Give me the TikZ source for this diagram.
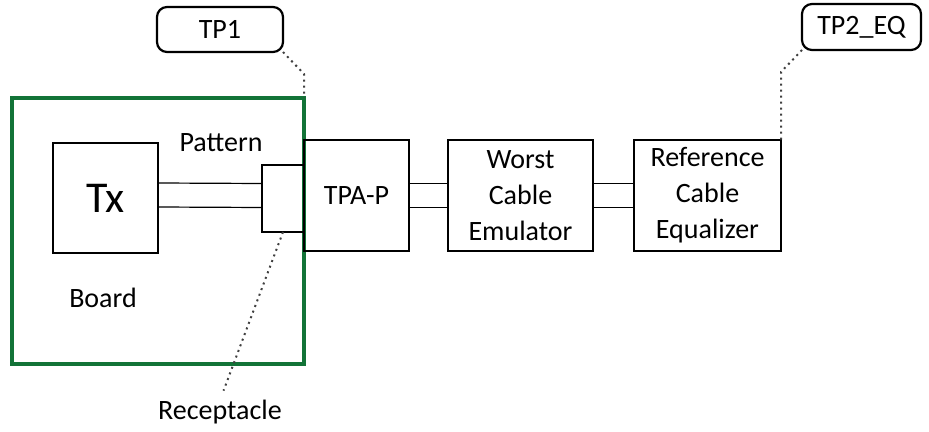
\documentclass[tikz,border=0pt]{standalone}
\usepackage{fontspec}
\setmainfont{Carlito}
\definecolor{boardgreen}{RGB}{18,115,55}
\begin{document}
\begin{tikzpicture}[x=0.5pt,y=-0.5pt,
  every node/.style={font=\fontsize{14}{18}\selectfont, inner sep=0pt, outer sep=0pt},
  block/.style={draw, line width=1.1pt, minimum height=55.5pt, align=center},
  probe/.style={draw, line width=1.1pt, rounded corners=5pt, minimum height=22.5pt},
  lead/.style={dotted, line width=1pt, black!75},
  wire/.style={line width=0.6pt}]
\useasboundingbox (0,0) rectangle (929,432);

% board outline first, boxes go over it
\node[draw=boardgreen, line width=2pt, minimum width=146pt, minimum height=133pt] (board) at (158,231) {};

\node[block, minimum width=52.5pt, minimum height=55pt, font=\fontsize{22}{26}\selectfont] (tx) at (105.5,198) {Tx};
\node[draw, line width=1.1pt, minimum width=21pt, minimum height=33.5pt] (rec) at (283,198.5) {};
\node[block, minimum width=52.5pt] (tpa) at (356.5,195.5) {TPA-P};
\node[block, minimum width=72.5pt] (wce) at (520.5,195.5) {Worst\\Cable\\Emulator};
\node[block, minimum width=73.5pt] (rce) at (707.5,195.5) {Reference\\Cable\\Equalizer};

\node[probe, minimum width=63pt] (tp1) at (220,29.5) {TP1};
\node[probe, minimum width=59.5pt, minimum height=23pt] (tp2) at (861.5,27) {TP2\_EQ};

\node (pattern) at (221,143) {Pattern};
\node (boardtxt) at (103,298) {Board};
\node (reclabel) at (220,412) {Receptacle};

% differential pairs
\draw[wire] ([yshift=7.5pt]tx.east) -- ([yshift=7.5pt]rec.west)
  ([yshift=-4.5pt]tx.east) -- ([yshift=-4.5pt]rec.west);
\draw[wire] ([yshift=6pt]tpa.east) -- ([yshift=6pt]wce.west)
  ([yshift=-6pt]tpa.east) -- ([yshift=-6pt]wce.west);
\draw[wire] ([yshift=6pt]wce.east) -- ([yshift=6pt]rce.west)
  ([yshift=-6pt]wce.east) -- ([yshift=-6pt]rce.west);

% test point leaders
\coordinate (k1) at (304,74);
\coordinate (k2) at (781,72);
\draw[lead] (tp1.south east) -- (k1) -- (board.north east);
\draw[lead] (tp2.south west) -- (k2) -- (rce.north east);
\draw[lead, shorten >=5pt] (rec.south) -- (reclabel.north);
\end{tikzpicture}
\end{document}
